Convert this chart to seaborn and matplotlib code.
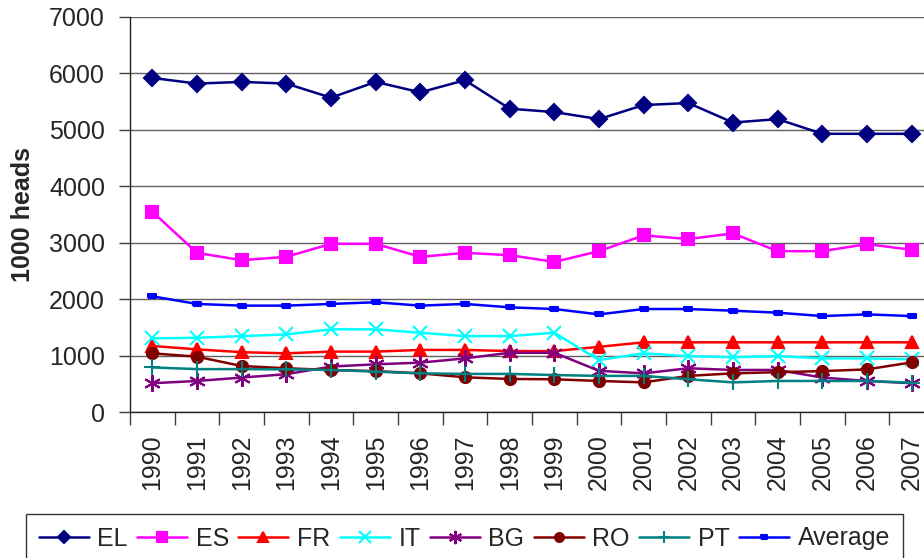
import numpy as np
import pandas as pd
import matplotlib
matplotlib.use("Agg")
import matplotlib.pyplot as plt
import seaborn as sns

years = list(range(1990, 2008))

el = [5920, 5820, 5850, 5820, 5570, 5850, 5665, 5880, 5375, 5315,
      5190, 5440, 5475, 5130, 5190, 4930, 4930, 4930]
es = [3550, 2820, 2690, 2750, 2980, 2980, 2750, 2820, 2780, 2660,
      2850, 3130, 3065, 3165, 2850, 2850, 2975, 2875]
fr = [1170, 1110, 1060, 1040, 1070, 1070, 1100, 1100, 1080, 1080,
      1155, 1235, 1235, 1235, 1235, 1235, 1235, 1235]
it = [1305, 1315, 1345, 1375, 1465, 1465, 1405, 1345, 1345, 1405,
      920, 1040, 990, 970, 990, 950, 950, 935]
bg = [510, 550, 610, 670, 805, 845, 875, 950, 1050, 1050,
      730, 685, 775, 745, 745, 610, 550, 510]
ro = [1040, 980, 815, 775, 745, 725, 685, 615, 585, 580,
      550, 525, 640, 685, 705, 725, 755, 880]
pt = [790, 760, 760, 755, 745, 715, 685, 675, 675, 655,
      640, 640, 580, 525, 550, 550, 550, 520]
avg = [2050, 1915, 1885, 1885, 1915, 1945, 1885, 1915, 1855, 1825,
       1730, 1825, 1825, 1795, 1760, 1700, 1730, 1700]

series_names = ["EL", "ES", "FR", "IT", "BG", "RO", "PT", "Average"]
series_values = [el, es, fr, it, bg, ro, pt, avg]
series_colors = ["#000080", "#FF00FF", "#FF0000", "#00FFFF",
                 "#800080", "#800000", "#008080", "#0000FF"]
bar_marker = [(-1, -0.45), (1, -0.45), (1, 0.45), (-1, 0.45), (-1, -0.45)]
series_markers = ["D", "s", "^", "x", (6, 2, 0), "o", "+", bar_marker]
marker_sizes = [8, 9, 9, 10, 12, 8, 11, 6]

sns.set_style("white")
plt.rcParams["font.family"] = ["Liberation Sans", "DejaVu Sans"]

fig = plt.figure(figsize=(9.24, 5.58), dpi=100)
ax = fig.add_axes([130 / 924, 146 / 558, 804 / 924, 395 / 558])

for name, vals, col, mk, ms in zip(series_names, series_values, series_colors,
                                   series_markers, marker_sizes):
    sns.lineplot(x=years, y=vals, ax=ax, color=col, marker=mk, markersize=ms,
                 markeredgecolor=col, markerfacecolor=col, markeredgewidth=1.5,
                 linewidth=1.8, label=name, legend=False)

ax.set_xlim(1989.5, 2007.5)
ax.set_ylim(0, 7000)
ax.set_yticks(range(0, 7001, 1000))
ax.grid(axis="y", color="#606060", linewidth=1)
ax.set_axisbelow(True)

# category style axis: ticks on the boundaries, labels in the middle
ax.set_xticks(np.arange(1989.5, 2008, 1))
ax.set_xticklabels([])
ax.set_xticks(years, minor=True)
ax.set_xticklabels([str(y) for y in years], minor=True, rotation=90, fontsize=18)
ax.tick_params(axis="x", which="major", direction="out", length=9, width=1,
               color="#404040", bottom=True)
ax.tick_params(axis="x", which="minor", length=0, pad=16)
ax.tick_params(axis="y", direction="out", length=8, width=1, color="#404040",
               labelsize=18, pad=10, left=True)

for side in ["top", "right"]:
    ax.spines[side].set_visible(False)
for side in ["left", "bottom"]:
    ax.spines[side].set_color("#202020")
    ax.spines[side].set_linewidth(1)

ax.set_ylabel("1000 heads", fontsize=18, fontweight="bold")
ax.yaxis.set_label_coords(-0.118, 0.5)

handles, labels = ax.get_legend_handles_labels()
leg = fig.legend(handles, labels, loc="upper left", ncol=8,
                 bbox_to_anchor=(26 / 924, 1 - 514 / 558), fontsize=18,
                 frameon=True, fancybox=False, edgecolor="black",
                 handlelength=2.0, handletextpad=0.35, columnspacing=0.37,
                 borderpad=0.5, markerscale=0.8, borderaxespad=0)
leg.get_frame().set_linewidth(1)

fig.savefig("out.png", dpi=100)
